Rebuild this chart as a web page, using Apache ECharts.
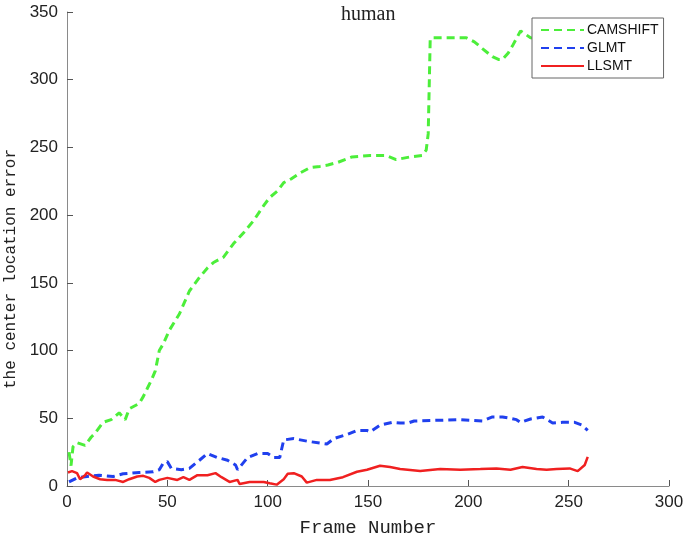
<!DOCTYPE html>
<html>
<head>
<meta charset="utf-8">
<script src="https://cdn.jsdelivr.net/npm/echarts@6/dist/echarts.min.js"></script>
<style>
  html, body { margin: 0; padding: 0; background: #fff; }
  #chart { width: 685px; height: 537px; }
</style>
</head>
<body>
<div id="chart"></div>
<script>
// values (frame number, center location error)
const camshiftFrames = [1, 2, 3, 5, 9, 12, 14, 18, 22, 26, 29, 31, 36, 38, 40, 42, 44, 46, 48, 51, 56, 61, 66, 70, 73, 78, 83, 88, 93, 98, 101, 105, 108, 112, 116, 121, 126, 130, 135, 142, 151, 159, 164, 171, 177, 179, 180, 181, 182, 191, 199, 203, 207, 212, 215, 217, 220, 222, 226, 229, 231, 240, 250, 260];
const camshiftError = [25, 15, 29, 32, 30, 36, 39, 47, 49, 54, 49, 57, 61, 66, 72, 78, 85, 100, 105, 115, 127, 144, 154, 161, 165, 169, 179, 187, 196, 207, 213, 218, 224, 227, 231, 235, 236, 237, 239, 243, 244, 244, 241, 243, 244, 248, 260, 330, 331, 331, 331, 328, 323, 317, 315, 315, 320, 325, 336, 333, 331, 330, 330, 330];

const glmtFrames = [1, 5, 10, 16, 23, 28, 36, 43, 46, 48, 50, 52, 57, 61, 66, 70, 75, 80, 84, 85, 90, 95, 100, 103, 106, 108, 113, 120, 127, 129.5, 133, 139.5, 144.5, 149.5, 151, 156, 162, 166, 170, 173, 196, 207, 212, 217, 221, 224, 226, 231, 237, 242, 247, 253, 256.5, 259.5];
const glmtError = [3, 6, 7, 8, 7, 9, 10, 10.5, 12, 17, 18, 13, 12, 13, 19, 24, 21, 19, 15.5, 12, 21, 24, 24, 21, 21, 34, 35, 33, 31.5, 31, 35, 38, 41, 41, 40, 45, 47, 46.5, 46.5, 48, 49, 48, 51, 51, 50, 49, 47, 49.5, 51, 46.5, 47, 47, 45, 41];

const llsmtFrames = [0.5, 2.5, 5, 6.5, 9, 10, 13, 16.5, 20, 24, 28, 31, 35, 38, 41, 44, 46, 50, 55, 58, 61, 65, 70, 74, 77, 81, 85, 86, 91, 98, 101, 104.5, 108, 110, 113, 117, 119.5, 124.5, 131, 137.5, 144.5, 149.5, 156, 161, 166, 176, 186, 196, 206, 214, 221, 227, 234, 239, 244, 250.5, 254.5, 258, 259.5];
const llsmtError = [10, 11, 9.5, 5, 8, 10, 7, 5, 4.5, 4.5, 3, 5, 7, 7.5, 6, 3, 4.5, 6, 4.5, 6.5, 4.5, 8, 8, 9.5, 6.5, 3, 4.5, 1.5, 3, 3, 2, 1, 5, 9, 9.5, 7, 2.5, 4.5, 4.5, 6.5, 10.5, 12, 15, 14, 12.5, 11, 12.5, 12, 12.5, 13, 12, 14, 12.5, 12, 12.5, 13, 11, 15.5, 21.5];

const xTicks = [0, 300, 50];   // min, max, interval
const yTicks = [0, 350, 50];

const pairs = (xs, ys) => xs.map((x, i) => [x, ys[i]]);

const chart = echarts.init(document.getElementById('chart'));
const axisGrey = '#8a8a8a';
const labelFont = { color: '#222', fontFamily: 'Liberation Sans', fontSize: 17 };
const nameFont = { color: '#222', fontFamily: 'Liberation Mono', fontSize: 19 };

chart.setOption({
  animation: false,
  backgroundColor: '#fff',
  title: {
    text: 'human',
    left: 336,
    top: 0,
    textStyle: { fontFamily: 'Liberation Serif', fontWeight: 'normal', fontSize: 20, color: '#222' }
  },
  grid: { left: 67, right: 16, top: 12, bottom: 51, outerBoundsMode: 'none', containLabel: false },
  legend: {
    orient: 'vertical',
    left: 532,
    top: 18,
    backgroundColor: '#fff',
    borderColor: '#666',
    borderWidth: 1,
    borderRadius: 0,
    padding: [5, 5, 5, 8],
    itemWidth: 43,
    itemHeight: 14,
    itemGap: 4,
    itemStyle: { opacity: 0 },
    textStyle: { fontFamily: 'Liberation Sans', fontSize: 14, color: '#111', padding: [0, 0, 0, -2] },
    data: ['CAMSHIFT', 'GLMT', 'LLSMT']
  },
  xAxis: {
    type: 'value',
    min: xTicks[0], max: xTicks[1], interval: xTicks[2],
    name: 'Frame Number',
    nameLocation: 'middle',
    nameGap: 32,
    nameTextStyle: nameFont,
    axisLine: { lineStyle: { color: axisGrey, width: 1 } },
    axisTick: { inside: true, length: 6, lineStyle: { color: '#555' } },
    axisLabel: Object.assign({ margin: 8 }, labelFont),
    splitLine: { show: false }
  },
  yAxis: {
    type: 'value',
    min: yTicks[0], max: yTicks[1], interval: yTicks[2],
    name: 'the center location error',
    nameLocation: 'middle',
    nameGap: 48,
    nameTextStyle: Object.assign({ padding: [0, 0, 0, -40] }, nameFont, { fontSize: 16 }),
    axisLine: { lineStyle: { color: axisGrey, width: 1 } },
    axisTick: { inside: true, length: 6, lineStyle: { color: '#555' } },
    axisLabel: Object.assign({ margin: 9 }, labelFont),
    splitLine: { show: false }
  },
  series: [
    {
      name: 'CAMSHIFT',
      type: 'line',
      showSymbol: false,
      symbol: 'none',
      data: pairs(camshiftFrames, camshiftError),
      lineStyle: { color: '#4cee3a', width: 3, type: [8, 5] },
      itemStyle: { color: '#4cee3a' },
      z: 2
    },
    {
      name: 'GLMT',
      type: 'line',
      showSymbol: false,
      symbol: 'none',
      data: pairs(glmtFrames, glmtError),
      lineStyle: { color: '#2040ee', width: 3, type: [8, 5] },
      itemStyle: { color: '#2040ee' },
      z: 3
    },
    {
      name: 'LLSMT',
      type: 'line',
      showSymbol: false,
      symbol: 'none',
      data: pairs(llsmtFrames, llsmtError),
      lineStyle: { color: '#f02020', width: 2.5 },
      itemStyle: { color: '#f02020' },
      z: 4
    }
  ]
});
</script>
</body>
</html>
